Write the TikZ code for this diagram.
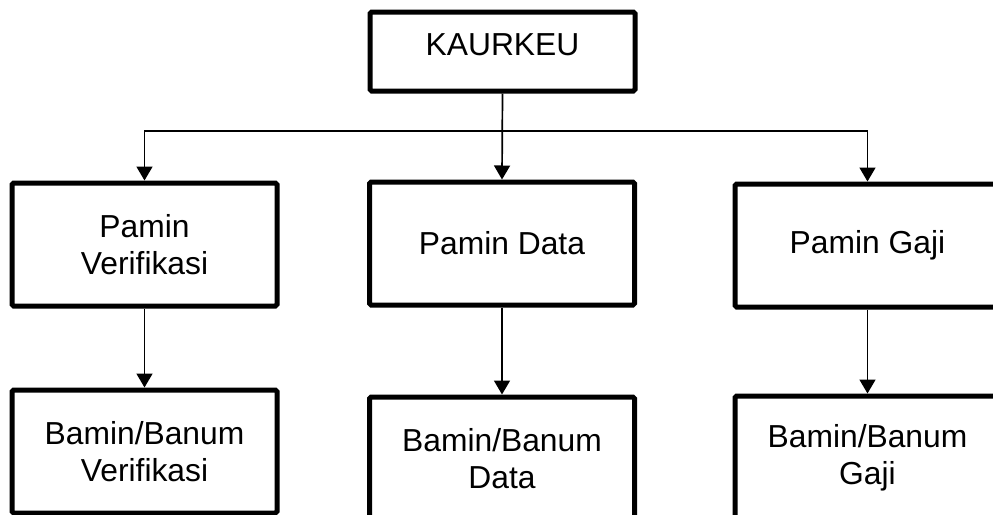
\documentclass[tikz,border=0pt]{standalone}
\usepackage{fontspec}
\setmainfont{Liberation Sans}
\usetikzlibrary{arrows.meta}
\begin{document}
\begin{tikzpicture}[x=0.5pt,y=-0.5pt,
  box/.style={draw, line width=2.5pt, rounded corners=0.8pt, align=center,
    minimum width=132.5pt, minimum height=61.5pt, inner sep=0pt,
    font=\fontsize{15.9pt}{18.5pt}\selectfont},
  link/.style={line width=0.85pt, -{Triangle[width=8pt,length=7pt]}}]
  \clip (0,0) rectangle (993,515);
  \fill[white] (0,0) rectangle (993,515);

  % head of the unit (label set a little above the middle)
  \node[box, minimum height=39.5pt, text depth=7pt] (kaur) at (502.5,51.5) {KAURKEU};

  % first level
  \node[box] (pver) at (144.5,244.5) {Pamin\\Verifikasi};
  \node[box] (pdat) at (502,243.5) {Pamin Data};
  \node[box] (pgaj) at (867.5,245.5) {Pamin Gaji};

  % second level
  \node[box] (bver) at (144.5,451.5) {Bamin/Banum\\Verifikasi};
  \node[box] (bdat) at (502,458.5) {Bamin/Banum\\Data};
  \node[box] (bgaj) at (867.5,457.5) {Bamin/Banum\\Gaji};

  % branching line under the head
  \coordinate (fork) at (502.5,131);
  \draw[link] (kaur.south) -- (pdat.north);
  \draw[link] (fork) -| (pver.north);
  \draw[link] (fork) -| (pgaj.north);

  \draw[link] (pver) -- (bver);
  \draw[link] (pdat) -- (bdat);
  \draw[link] (pgaj) -- (bgaj);
\end{tikzpicture}
\end{document}
